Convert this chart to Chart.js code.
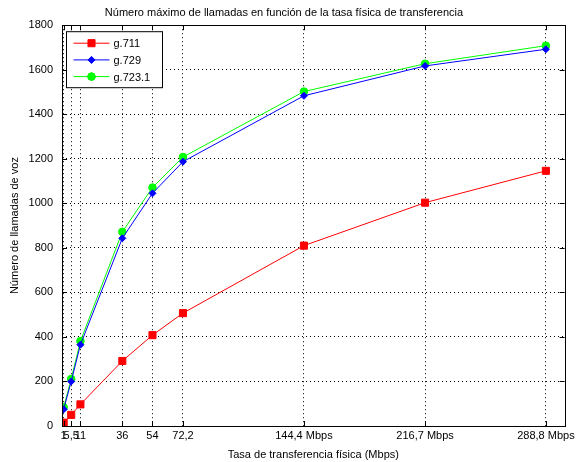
<!DOCTYPE html>
<html>
<head>
<meta charset="utf-8">
<script src="https://cdn.jsdelivr.net/npm/chart.js@4"></script>
<style>
  html, body { margin: 0; padding: 0; background: #fff; }
  #wrap { width: 578px; height: 462px; }
</style>
</head>
<body>
<div id="wrap"><canvas id="callsChart" width="578" height="462"></canvas></div>
<script>
// tasas físicas (Mbps) y número de llamadas por códec
const rates = [1, 5.5, 11, 36, 54, 72.2, 144.4, 216.7, 288.8];
const rateLabels = ['1', '5,5', '11', '36', '54', '72,2', '144,4 Mbps', '216,7 Mbps', '288,8 Mbps'];
const g711 = [15, 50, 97, 292, 408, 507, 810, 1003, 1146];
const g729 = [75, 200, 365, 843, 1045, 1187, 1483, 1617, 1692];
const g7231 = [84, 211, 381, 872, 1071, 1208, 1502, 1627, 1708];
const yTicks = [0, 200, 400, 600, 800, 1000, 1200, 1400, 1600, 1800];

const FONT = 'Liberation Sans, Arial, sans-serif';

function points(values) {
    return rates.map(function (r, i) { return { x: r, y: values[i] }; });
}

// caja con marcas hacia dentro, estilo matlab
const framePlugin = {
    id: 'frame',
    afterDraw: function (chart) {
        const ctx = chart.ctx, a = chart.chartArea;
        const xs = chart.scales.x, ys = chart.scales.y;
        ctx.save();
        ctx.strokeStyle = '#000';
        ctx.lineWidth = 1;
        ctx.strokeRect(Math.round(a.left) + 0.5, Math.round(a.top) + 0.5,
            Math.round(a.right - a.left), Math.round(a.bottom - a.top));
        ctx.beginPath();
        rates.forEach(function (r) {
            const px = Math.round(xs.getPixelForValue(r)) + 0.5;
            ctx.moveTo(px, a.bottom); ctx.lineTo(px, a.bottom - 5);
            ctx.moveTo(px, a.top); ctx.lineTo(px, a.top + 5);
        });
        yTicks.forEach(function (t) {
            const py = Math.round(ys.getPixelForValue(t)) + 0.5;
            ctx.moveTo(a.left, py); ctx.lineTo(a.left + 5, py);
            ctx.moveTo(a.right, py); ctx.lineTo(a.right - 5, py);
        });
        ctx.stroke();
        ctx.restore();
    }
};

// leyenda dentro del área, arriba a la izquierda
const legendBoxPlugin = {
    id: 'legendBox',
    afterDraw: function (chart) {
        const ctx = chart.ctx, a = chart.chartArea;
        const x0 = a.left + 4.5, y0 = a.top + 6.5, w = 96, h = 56;
        ctx.save();
        ctx.fillStyle = '#fff';
        ctx.fillRect(x0, y0, w, h);
        ctx.strokeStyle = '#000';
        ctx.lineWidth = 1;
        ctx.strokeRect(x0, y0, w, h);
        ctx.font = '11px ' + FONT;
        ctx.textBaseline = 'middle';
        chart.data.datasets.forEach(function (ds, i) {
            const cy = y0 + 11.5 + i * 16.7;
            ctx.strokeStyle = ds.borderColor;
            ctx.beginPath();
            ctx.moveTo(x0 + 7, cy); ctx.lineTo(x0 + 43, cy);
            ctx.stroke();
            Chart.helpers.drawPoint(ctx, {
                pointStyle: ds.pointStyle,
                radius: ds.pointRadius,
                borderWidth: 1,
                rotation: 0
            }, x0 + 25, cy);
            ctx.fillStyle = ds.pointBackgroundColor;
            ctx.strokeStyle = ds.borderColor;
            ctx.fill();
            ctx.fillStyle = '#000';
            ctx.fillText(ds.label, x0 + 47, cy + 1);
        });
        ctx.restore();
    }
};

function series(label, values, color, style, radius) {
    return {
        label: label,
        data: points(values),
        borderColor: color,
        backgroundColor: color,
        pointBackgroundColor: color,
        pointBorderColor: color,
        pointStyle: style,
        pointRadius: radius,
        pointBorderWidth: 1,
        borderWidth: 1,
        showLine: true,
        tension: 0
    };
}

const chart = new Chart(document.getElementById('callsChart').getContext('2d'), {
    type: 'scatter',
    data: {
        datasets: [
            series('g.711', g711, '#ff0000', 'rect', 5),
            series('g.729', g729, '#0000ff', 'rectRot', 3.5),
            series('g.723.1', g7231, '#00ff00', 'circle', 3.8)
        ]
    },
    options: {
        responsive: false,
        animation: false,
        layout: { padding: { left: 0, right: 10, top: 0, bottom: 0 } },
        plugins: {
            legend: { display: false },
            tooltip: { enabled: false },
            title: {
                display: true,
                text: 'Número máximo de llamadas en función de la tasa física de transferencia',
                color: '#000',
                font: { family: FONT, size: 11, weight: 'normal' },
                padding: { top: 6, bottom: 6 }
            }
        },
        scales: {
            x: {
                type: 'linear',
                min: 0,
                max: 300,
                afterBuildTicks: function (scale) {
                    scale.ticks = rates.map(function (r) { return { value: r }; });
                },
                afterFit: function (scale) { scale.height = 36; },
                ticks: {
                    autoSkip: false,
                    maxRotation: 0,
                    color: '#000',
                    padding: 3,
                    font: { family: FONT, size: 11 },
                    callback: function (v) {
                        const i = rates.indexOf(v);
                        return i >= 0 ? rateLabels[i] : '';
                    }
                },
                grid: { color: '#000', lineWidth: 1, drawTicks: false },
                border: { display: false, dash: [1, 3] },
                title: {
                    display: true,
                    text: 'Tasa de transferencia física (Mbps)',
                    color: '#000',
                    font: { family: FONT, size: 11 },
                    padding: { top: 0, bottom: 0 }
                }
            },
            y: {
                min: 0,
                max: 1800,
                afterBuildTicks: function (scale) {
                    scale.ticks = yTicks.map(function (t) { return { value: t }; });
                },
                afterFit: function (scale) { scale.width = 62; },
                ticks: {
                    color: '#000',
                    padding: 9,
                    font: { family: FONT, size: 11 },
                    callback: function (v) { return String(v); }
                },
                grid: { color: '#000', lineWidth: 1, drawTicks: false },
                border: { display: false, dash: [1, 3] },
                title: {
                    display: true,
                    text: 'Número de llamadas de voz',
                    color: '#000',
                    font: { family: FONT, size: 11 },
                    padding: { top: 8, bottom: 4 }
                }
            }
        }
    },
    plugins: [framePlugin, legendBoxPlugin]
});
</script>
</body>
</html>
